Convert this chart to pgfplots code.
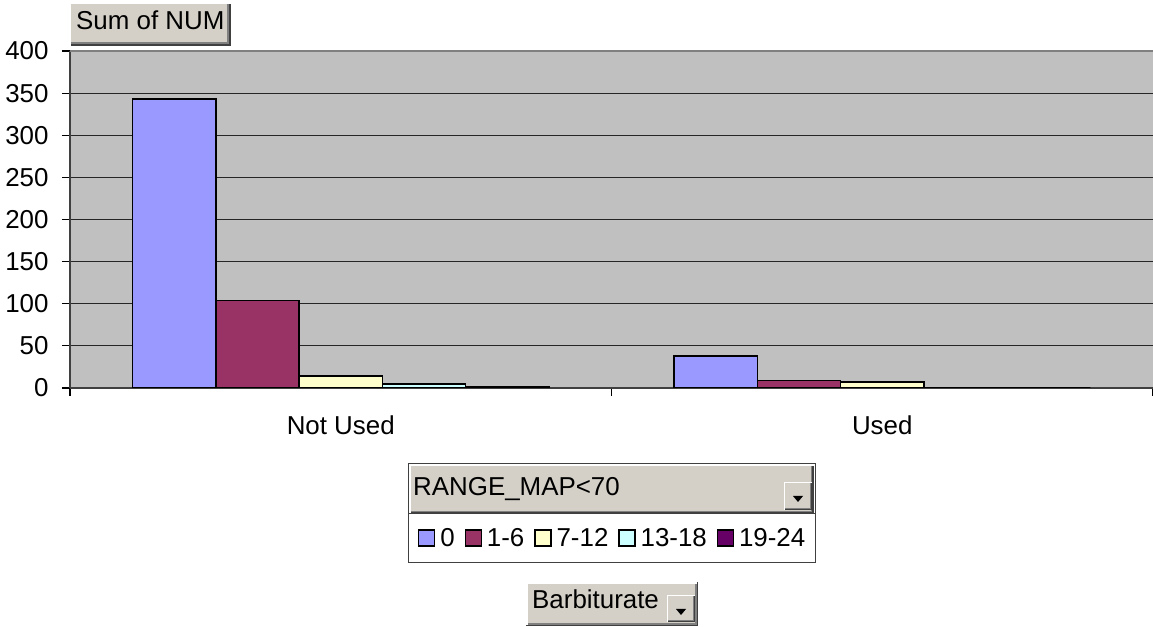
\documentclass[border=0pt]{standalone}
\usepackage{fontspec}
\setmainfont{Liberation Sans}
\usepackage{pgfplots}
\pgfplotsset{compat=1.18}
\definecolor{c0}{HTML}{9999FF}
\definecolor{c1}{HTML}{993366}
\definecolor{c2}{HTML}{FFFFCC}
\definecolor{c3}{HTML}{CCFFFF}
\definecolor{c4}{HTML}{660066}
\definecolor{plotgray}{HTML}{C0C0C0}
\definecolor{btn}{HTML}{D4D0C8}
\definecolor{dk}{HTML}{404040}
\definecolor{md}{HTML}{808080}
\newcommand{\fs}{\fontsize{26}{30}\selectfont}
\begin{document}
\begin{tikzpicture}[x=1bp,y=1bp,font=\fs]
\path[use as bounding box] (0,0) rectangle (1153,627);
% Sum of NUM field button
\fill[white] (69,581) rectangle (231,625);
\fill[dk] (71,581) rectangle (231,623);
\fill[md] (71,583) rectangle (229,623);
\fill[btn] (71,585) rectangle (227,623);
\node[anchor=base west, inner sep=0pt] at (76,597) {Sum of NUM};
% legend frame
\draw[dk, line width=1bp, fill=white] (408.5,64.5) rectangle (815.5,163.5);
\fill[white] (410,114) rectangle (814,162);
\fill[dk] (411,114) rectangle (814,161);
\fill[md] (411,115) rectangle (812,161);
\fill[btn] (411,116) rectangle (811,161);
\draw[dk, line width=1bp] (408.5,113) -- (815.5,113);
\node[anchor=base west, inner sep=0pt] at (413,131) {RANGE\_MAP<70};
\fill[white] (784,117) rectangle (812,145);
\fill[dk] (785,117) rectangle (812,144);
\fill[md] (785,118) rectangle (811,144);
\fill[btn] (785,119) rectangle (810,144);
\fill[black] (793,131) -- (803,131) -- (798,125) -- cycle;
% Barbiturate field button
\fill[dk] (526,1) rectangle (698,45);
\fill[white] (526,2) rectangle (697,45);
\fill[md] (528,2) rectangle (697,43);
\fill[btn] (528,4) rectangle (695,43);
\node[anchor=base west, inner sep=0pt] at (532,18) {Barbiturate};
\fill[white] (667,5) rectangle (695,32);
\fill[dk] (668,5) rectangle (695,31);
\fill[md] (668,6) rectangle (694,31);
\fill[btn] (668,7) rectangle (693,31);
\fill[black] (676,18) -- (686,18) -- (681,12) -- cycle;
\begin{axis}[
  at={(70bp,239bp)}, anchor=south west,
  scale only axis, width=1083bp, height=337bp,
  xmin=-0.5, xmax=1.5, ymin=0, ymax=400,
  ytick={0,50,...,400},
  xtick={-0.5,0.5,1.5}, xticklabels={},
  extra x ticks={0,1}, extra x tick labels={Not Used,Used},
  extra x tick style={major tick length=0pt, grid=none},
  axis background/.style={fill=plotgray},
  axis x line*=bottom, axis y line*=left,
  axis line style={-, draw=dk, line width=1.5bp},
  tick align=outside, major tick length=8bp,
  tick style={draw=black, line width=1.2bp},
  ymajorgrids, grid style={draw=black!85, line width=1.1bp},
  /pgf/number format/assume math mode=true,
  every tick label/.append style={font=\fs},
  yticklabel style={xshift=-10bp},
  xticklabel style={yshift=-24bp},
  ybar, bar width=0.1538,
  every axis plot/.append style={draw=black, line width=1.5bp},
  legend columns=5,
  legend style={at={(0.3213,-0.4451)}, anchor=west, draw=none, fill=none,
    inner sep=0pt, font=\fs,
    /tikz/every odd column/.append style={column sep=3bp},
    /tikz/every even column/.append style={column sep=8bp}},
  legend image code/.code={\draw[#1, draw=black, line width=1.2bp] (0bp,-8bp) rectangle (16bp,8bp);},
  after end axis/.code={\draw[md, line width=2bp] (rel axis cs:0,1) -- (rel axis cs:1,1);},
]
\addplot[fill=c0, bar shift=-0.3076] coordinates {(0,343) (1,38)};
\addplot[fill=c1, bar shift=-0.1538] coordinates {(0,104) (1,9)};
\addplot[fill=c2, bar shift=0] coordinates {(0,14) (1,7)};
\addplot[fill=c3, bar shift=0.1538] coordinates {(0,5) (1,0)};
\addplot[fill=c4, bar shift=0.3076] coordinates {(0,2) (1,0)};
\legend{0,1-6,7-12,13-18,19-24}
\end{axis}
\end{tikzpicture}
\end{document}
